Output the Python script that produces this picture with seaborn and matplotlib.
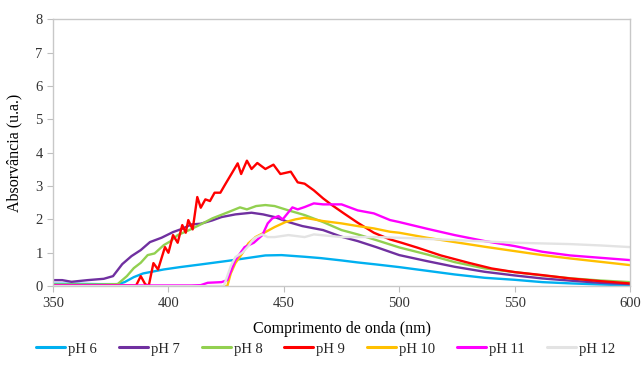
import matplotlib
matplotlib.use("Agg")
import matplotlib.pyplot as plt
import seaborn as sns
import pandas as pd

# --- data (wavelength nm, absorbance u.a.) ---
wl_ph6 = [350, 360, 370, 378, 381, 385, 389, 398, 405, 414, 426, 435, 442, 449, 459, 466,
          475, 482, 490, 500, 512, 524, 537, 550, 562, 575, 587, 600]
abs_ph6 = [0.07, 0.07, 0.06, 0.06, 0.12, 0.27, 0.38, 0.5, 0.57, 0.65, 0.76, 0.85, 0.92, 0.93, 0.88, 0.84,
           0.77, 0.71, 0.65, 0.57, 0.46, 0.35, 0.25, 0.19, 0.12, 0.08, 0.05, 0.02]

wl_ph7 = [350, 354, 358, 365, 372, 376, 380, 384, 388, 392, 397, 402, 406, 410, 414, 419, 423,
          429, 436, 441, 446, 452, 458, 467, 475, 482, 490, 500, 512, 524, 537, 550, 562, 575, 587, 600]
abs_ph7 = [0.18, 0.18, 0.13, 0.18, 0.22, 0.3, 0.66, 0.9, 1.08, 1.32, 1.45, 1.62, 1.72, 1.85, 1.87, 1.97, 2.07,
           2.15, 2.2, 2.15, 2.07, 1.92, 1.8, 1.68, 1.48, 1.35, 1.17, 0.93, 0.75, 0.58, 0.43, 0.32, 0.23, 0.16, 0.1, 0.06]

wl_ph8 = [350, 370, 378, 382, 385, 388, 391, 394, 398, 401, 404, 409, 414, 419, 426, 431, 434,
          438, 442, 446, 452, 459, 467, 475, 482, 490, 500, 512, 524, 537, 550, 562, 575, 587, 600]
abs_ph8 = [0.05, 0.05, 0.06, 0.3, 0.54, 0.7, 0.93, 0.98, 1.23, 1.35, 1.53, 1.68, 1.85, 2.03, 2.22, 2.36, 2.3,
           2.4, 2.43, 2.4, 2.27, 2.13, 1.92, 1.68, 1.55, 1.38, 1.16, 0.95, 0.72, 0.53, 0.42, 0.32, 0.23, 0.17, 0.12]

wl_ph9 = [350, 380, 386, 388, 390, 391.5, 393.5, 395.5, 398.5, 400, 402, 404, 406, 407.5, 408.6, 410.5,
          412.5, 414, 416, 418, 420, 422.5, 424.6, 427.7, 430, 431.5, 434, 436, 438.5, 442, 445.5, 448.5,
          453, 456, 459, 463, 467, 471, 476, 482, 489, 496, 501, 508, 518, 530, 540, 550, 562, 574, 587, 600]
abs_ph9 = [0.02, 0.02, 0.02, 0.3, 0.05, 0.02, 0.69, 0.5, 1.17, 1.0, 1.53, 1.3, 1.83, 1.6, 1.98, 1.7,
           2.67, 2.35, 2.6, 2.55, 2.8, 2.8, 3.05, 3.41, 3.68, 3.36, 3.76, 3.51, 3.69, 3.51, 3.64, 3.36,
           3.43, 3.11, 3.07, 2.87, 2.63, 2.42, 2.18, 1.9, 1.6, 1.4, 1.3, 1.15, 0.92, 0.7, 0.53, 0.42, 0.33, 0.23, 0.15, 0.08]

wl_ph10 = [350, 420, 425.5, 427, 429, 432, 434.6, 437.7, 442, 446, 450.7, 455, 459, 467, 475, 482,
           489, 496, 500, 512, 524, 537, 550, 562, 574, 587, 600]
abs_ph10 = [0.0, 0.0, 0.0, 0.38, 0.69, 0.98, 1.28, 1.47, 1.62, 1.77, 1.92, 2.0, 2.05, 1.95, 1.88, 1.8,
            1.73, 1.63, 1.6, 1.45, 1.32, 1.18, 1.05, 0.93, 0.83, 0.73, 0.63]

wl_ph11 = [350, 410, 414, 417, 423, 425.5, 429, 433, 437, 440.7, 443, 445, 447.7, 449.5, 453.7, 456,
           459, 463, 467, 475, 482, 489, 496, 500, 512, 524, 537, 550, 562, 574, 587, 600]
abs_ph11 = [0.02, 0.02, 0.03, 0.1, 0.12, 0.18, 0.78, 1.17, 1.3, 1.53, 1.88, 2.03, 2.1, 2.0, 2.36, 2.3,
            2.37, 2.48, 2.45, 2.45, 2.27, 2.18, 1.98, 1.92, 1.72, 1.53, 1.35, 1.2, 1.03, 0.92, 0.85, 0.78]

wl_ph12 = [350, 420, 424, 427, 429, 432, 434.6, 437, 440.7, 443, 446, 452, 459, 463, 475, 490,
           500, 524, 550, 562, 574, 587, 600]
abs_ph12 = [0.0, 0.0, 0.0, 0.6, 0.87, 1.0, 1.2, 1.43, 1.55, 1.47, 1.47, 1.53, 1.47, 1.55, 1.47, 1.47,
            1.45, 1.38, 1.3, 1.28, 1.26, 1.22, 1.17]

series_names = ["pH 6", "pH 7", "pH 8", "pH 9", "pH 10", "pH 11", "pH 12"]
series_colors = ["#00B0F0", "#7030A0", "#92D050", "#FF0000", "#FFC000", "#FF00FF", "#E3E3E3"]
x_ticks = [350, 400, 450, 500, 550, 600]
y_ticks = [0, 1, 2, 3, 4, 5, 6, 7, 8]


def main():
    wls = [wl_ph6, wl_ph7, wl_ph8, wl_ph9, wl_ph10, wl_ph11, wl_ph12]
    vals = [abs_ph6, abs_ph7, abs_ph8, abs_ph9, abs_ph10, abs_ph11, abs_ph12]
    df = pd.concat(
        [pd.DataFrame({"wl": w, "A": a, "pH": name}) for w, a, name in zip(wls, vals, series_names)],
        ignore_index=True,
    )

    sns.set_style("white")
    plt.rcParams["font.family"] = ["Liberation Serif", "DejaVu Serif"]

    fig = plt.figure(figsize=(6.41, 3.76), dpi=100)
    ax = fig.add_axes([0.0827, 0.239, 0.9003, 0.710])

    sns.lineplot(data=df, x="wl", y="A", hue="pH", hue_order=series_names,
                 palette=dict(zip(series_names, series_colors)),
                 estimator=None, linewidth=1.7, ax=ax)

    ax.set_xlim(350, 600)
    ax.set_ylim(0, 8)
    ax.set_xticks(x_ticks)
    ax.set_yticks(y_ticks)
    ax.set_xlabel("Comprimento de onda (nm)", fontsize=11.5, color="#000000", labelpad=8)
    ax.set_ylabel("Absorvância (u.a.)", fontsize=11.5, color="#000000", labelpad=9)
    ax.tick_params(axis="both", labelsize=10.5, colors="#333333", length=4, width=0.8,
                   direction="out", bottom=True, left=True)
    ax.tick_params(axis="both", color="#BFBFBF")
    for sp in ax.spines.values():
        sp.set_color("#C8C8C8")
        sp.set_linewidth(1.0)

    handles, labels = ax.get_legend_handles_labels()
    ax.get_legend().remove()
    for h in handles:
        h.set_linewidth(2.2)
    fig.legend(handles, labels, loc="center", bbox_to_anchor=(0.508, 0.072), ncol=7,
               frameon=False, fontsize=10.5, handlelength=2.0, handletextpad=0.2,
               columnspacing=1.5)

    fig.savefig("out.png", dpi=100)


if __name__ == "__main__":
    main()
